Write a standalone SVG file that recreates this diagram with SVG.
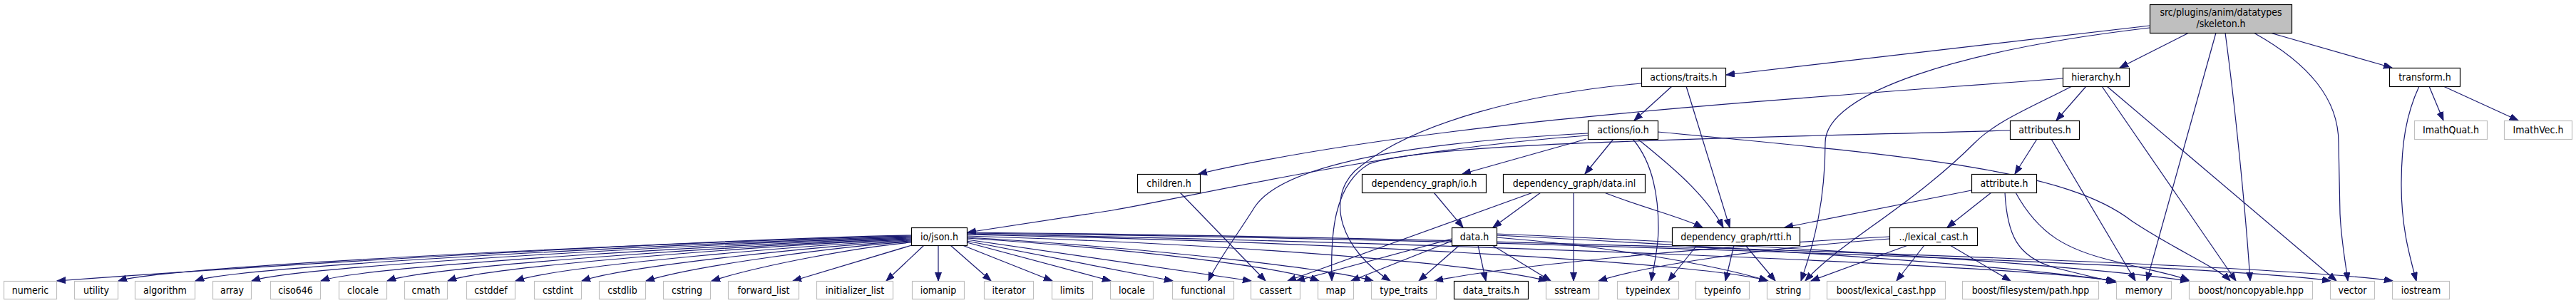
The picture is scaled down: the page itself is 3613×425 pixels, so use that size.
<svg xmlns="http://www.w3.org/2000/svg" width="3613" height="425" viewBox="0 0 3613 425">
<defs>
<marker id="a" markerUnits="userSpaceOnUse" markerWidth="14" markerHeight="10" refX="12" refY="4.5" orient="auto"><path d="M0,0 L12,4.5 L0,9 z" fill="#191970" stroke="#191970" stroke-width="1"/></marker>
<style>
.n rect{fill:#fff;stroke:#000;stroke-width:1.2}
.g rect{fill:#fff;stroke:#bfbfbf;stroke-width:1.2}
.r rect{fill:#bfbfbf;stroke:#000;stroke-width:1.2}
text{font-family:"DejaVu Sans Condensed","DejaVu Sans",sans-serif;font-size:14px;text-anchor:middle;fill:#000}
#edges path{fill:none;stroke:#191970;stroke-width:1.2;marker-end:url(#a)}
</style>
</defs>
<rect width="3613" height="425" fill="#fff"/>
<g id="edges">
<path d="M3015,36 L2421,105"/>
<path d="M3015,39 C2750,70 2560,130 2560,200 C2560,280 2545,340 2526,394"/>
<path d="M3070,46 L2973,95"/>
<path d="M3108,46 L3011,394"/>
<path d="M3121,46 C3135,150 3150,300 3156,394"/>
<path d="M3161,46 C3240,90 3280,140 3280,200 L3282,300 C3284,340 3290,370 3293,394"/>
<path d="M3184,46 L3355,95"/>
<path d="M3407,121 L3427,169"/>
<path d="M3427,121 L3532,169"/>
<path d="M3393,121 C3375,160 3368,200 3368,260 C3368,320 3380,360 3389,394"/>
<path d="M2893,110 C2500,140 2000,170 1681,244"/>
<path d="M2926,121 L2884,169"/>
<path d="M2906,121 C2850,150 2800,170 2770,200 C2680,290 2580,340 2532,394"/>
<path d="M2948,121 L3136,394"/>
<path d="M2955,121 L3277,394"/>
<path d="M2345,121 L2292,169"/>
<path d="M2365,121 L2426,319"/>
<path d="M2302,117 C2150,130 1980,170 1900,240 C1860,280 1880,350 1950,394"/>
<path d="M2857,195 L2826,244"/>
<path d="M2877,195 L2995,394"/>
<path d="M2819,183 C2400,195 2000,200 1920,230 C1870,260 1866,330 1868,394"/>
<path d="M2227,190 C1950,210 1700,270 1560,295 C1450,312 1400,320 1357,326"/>
<path d="M2227,187 C1980,200 1800,230 1760,290 C1735,330 1705,370 1695,394"/>
<path d="M2225,195 L2051,244"/>
<path d="M2263,195 L2223,244"/>
<path d="M2297,195 C2340,230 2390,270 2417,319"/>
<path d="M2290,195 C2320,230 2326,280 2326,320 C2326,350 2318,380 2316,394"/>
<path d="M2325,185 C2700,220 2900,240 2990,310 C3050,350 3110,375 3128,394"/>
<path d="M1655,270 L1775,394"/>
<path d="M2011,270 L2052,319"/>
<path d="M2161,270 L2094,319"/>
<path d="M2150,270 L1806,394"/>
<path d="M2207,270 L2207,394"/>
<path d="M2250,270 C2300,290 2360,305 2388,319"/>
<path d="M2765,267 L2503,319"/>
<path d="M2793,270 L2731,319"/>
<path d="M2812,270 C2815,330 2830,360 2880,375 C2920,385 2940,390 2968,396"/>
<path d="M2827,270 C2860,330 2900,350 2960,365 C3010,378 3050,385 3070,393"/>
<path d="M2036,335 L1818,394"/>
<path d="M2036,338 L1895,394"/>
<path d="M2047,344 L1990,394"/>
<path d="M2073,344 L2084,394"/>
<path d="M2093,344 L2175,394"/>
<path d="M2099,333 C2250,345 2400,370 2480,394"/>
<path d="M2099,330 C2400,345 2800,370 2966,394"/>
<path d="M2099,328 C2500,345 2900,370 3070,394"/>
<path d="M1333,344 L1390,394"/>
<path d="M1350,344 L1476,394"/>
<path d="M1356,340 L1558,394"/>
<path d="M1356,338 L1645,394"/>
<path d="M1356,336 L1755,394"/>
<path d="M1356,334 C1600,350 1800,375 1850,394"/>
<path d="M1356,333 C1650,350 1880,380 1926,394"/>
<path d="M1356,331 C1800,345 2100,375 2170,394"/>
<path d="M1356,329 C1900,340 2400,370 2479,394"/>
<path d="M1356,328 C2000,340 2800,370 2967,394"/>
<path d="M1356,327 C2100,335 3100,370 3269,394"/>
<path d="M1356,326 C2100,333 3200,370 3356,394"/>
<path d="M1316,344 L1316,394"/>
<path d="M1296,344 L1243,394"/>
<path d="M1282,343 L1112,394"/>
<path d="M1278,340 C1207,346 1067,372 998,394"/>
<path d="M1278,339 C1184,345 975,372 906,394"/>
<path d="M1278,338 C1161,344 882,372 816,394"/>
<path d="M1278,337 C1139,343 789,372 723,394"/>
<path d="M1278,336 C1115,342 690,372 628,394"/>
<path d="M1278,335 C1094,341 606,372 543,394"/>
<path d="M1278,334 C1070,340 514,372 450,394"/>
<path d="M1278,333 C1046,339 420,372 353,394"/>
<path d="M1278,332 C1027,338 337,372 274,394"/>
<path d="M1278,331 C1000,337 235,372 166,394"/>
<path d="M1278,330 C978,336 377,372 80,394"/>
<path d="M2380,344 L2340,394"/>
<path d="M2432,344 L2420,394"/>
<path d="M2448,344 L2490,394"/>
<path d="M2650,332 C2400,345 2100,375 2012,394"/>
<path d="M2650,335 C2450,350 2300,375 2242,394"/>
<path d="M2676,344 L2540,394"/>
<path d="M2699,344 L2660,394"/>
<path d="M2735,344 L2820,394"/>
</g>
<g id="n_skeleton" class="r"><rect x="3015.5" y="6.5" width="199" height="40"/><text x="3115" y="22">src/plugins/anim/datatypes</text><text x="3115" y="38">/skeleton.h</text></g>
<g id="n_traits" class="n"><rect x="2302.5" y="95.5" width="118" height="26"/><text x="2361.5" y="113">actions/traits.h</text></g>
<g id="n_hierarchy" class="n"><rect x="2893.5" y="95.5" width="93" height="26"/><text x="2940" y="113">hierarchy.h</text></g>
<g id="n_transform" class="n"><rect x="3351.5" y="95.5" width="99" height="26"/><text x="3401" y="113">transform.h</text></g>
<g id="n_actions_io" class="n"><rect x="2227.5" y="169.5" width="98" height="26"/><text x="2276.5" y="187">actions/io.h</text></g>
<g id="n_attributes" class="n"><rect x="2819.5" y="169.5" width="97" height="26"/><text x="2868" y="187">attributes.h</text></g>
<g id="n_imathquat" class="g"><rect x="3386.5" y="169.5" width="102" height="26"/><text x="3437.5" y="187">ImathQuat.h</text></g>
<g id="n_imathvec" class="g"><rect x="3512.5" y="169.5" width="95" height="26"/><text x="3560" y="187">ImathVec.h</text></g>
<g id="n_children" class="n"><rect x="1595.5" y="244.5" width="88" height="26"/><text x="1639.5" y="262">children.h</text></g>
<g id="n_dg_io" class="n"><rect x="1910.5" y="244.5" width="174" height="26"/><text x="1997.5" y="262">dependency_graph/io.h</text></g>
<g id="n_dg_data_inl" class="n"><rect x="2108.5" y="244.5" width="199" height="26"/><text x="2208" y="262">dependency_graph/data.inl</text></g>
<g id="n_attribute" class="n"><rect x="2765.5" y="244.5" width="91" height="26"/><text x="2811" y="262">attribute.h</text></g>
<g id="n_io_json" class="n"><rect x="1278.5" y="319.5" width="78" height="25"/><text x="1317.5" y="337">io/json.h</text></g>
<g id="n_data" class="n"><rect x="2036.5" y="319.5" width="63" height="25"/><text x="2068" y="337">data.h</text></g>
<g id="n_dg_rtti" class="n"><rect x="2345.5" y="319.5" width="179" height="25"/><text x="2435" y="337">dependency_graph/rtti.h</text></g>
<g id="n_lexical_cast" class="n"><rect x="2650.5" y="319.5" width="123" height="25"/><text x="2712" y="337">../lexical_cast.h</text></g>
<g id="n_numeric" class="g"><rect x="5.5" y="394.5" width="74" height="25"/><text x="42.5" y="412">numeric</text></g>
<g id="n_utility" class="g"><rect x="104.5" y="394.5" width="61" height="25"/><text x="135" y="412">utility</text></g>
<g id="n_algorithm" class="g"><rect x="189.5" y="394.5" width="84" height="25"/><text x="231.5" y="412">algorithm</text></g>
<g id="n_array" class="g"><rect x="298.5" y="394.5" width="54" height="25"/><text x="325.5" y="412">array</text></g>
<g id="n_ciso646" class="g"><rect x="379.5" y="394.5" width="70" height="25"/><text x="414.5" y="412">ciso646</text></g>
<g id="n_clocale" class="g"><rect x="475.5" y="394.5" width="67" height="25"/><text x="509" y="412">clocale</text></g>
<g id="n_cmath" class="g"><rect x="567.5" y="394.5" width="60" height="25"/><text x="597.5" y="412">cmath</text></g>
<g id="n_cstddef" class="g"><rect x="654.5" y="394.5" width="68" height="25"/><text x="688.5" y="412">cstddef</text></g>
<g id="n_cstdint" class="g"><rect x="749.5" y="394.5" width="66" height="25"/><text x="782.5" y="412">cstdint</text></g>
<g id="n_cstdlib" class="g"><rect x="840.5" y="394.5" width="65" height="25"/><text x="873" y="412">cstdlib</text></g>
<g id="n_cstring" class="g"><rect x="930.5" y="394.5" width="66" height="25"/><text x="963.5" y="412">cstring</text></g>
<g id="n_forward_list" class="g"><rect x="1021.5" y="394.5" width="99" height="25"/><text x="1071" y="412">forward_list</text></g>
<g id="n_initializer_list" class="g"><rect x="1145.5" y="394.5" width="107" height="25"/><text x="1199" y="412">initializer_list</text></g>
<g id="n_iomanip" class="g"><rect x="1279.5" y="394.5" width="73" height="25"/><text x="1316" y="412">iomanip</text></g>
<g id="n_iterator" class="g"><rect x="1380.5" y="394.5" width="69" height="25"/><text x="1415" y="412">iterator</text></g>
<g id="n_limits" class="g"><rect x="1475.5" y="394.5" width="57" height="25"/><text x="1504" y="412">limits</text></g>
<g id="n_locale" class="g"><rect x="1557.5" y="394.5" width="60" height="25"/><text x="1587.5" y="412">locale</text></g>
<g id="n_functional" class="g"><rect x="1644.5" y="394.5" width="86" height="25"/><text x="1687.5" y="412">functional</text></g>
<g id="n_cassert" class="g"><rect x="1754.5" y="394.5" width="69" height="25"/><text x="1789" y="412">cassert</text></g>
<g id="n_map" class="g"><rect x="1848.5" y="394.5" width="50" height="25"/><text x="1873.5" y="412">map</text></g>
<g id="n_type_traits" class="g"><rect x="1923.5" y="394.5" width="91" height="25"/><text x="1969" y="412">type_traits</text></g>
<g id="n_data_traits" class="n"><rect x="2039.5" y="394.5" width="104" height="25"/><text x="2091.5" y="412">data_traits.h</text></g>
<g id="n_sstream" class="g"><rect x="2168.5" y="394.5" width="74" height="25"/><text x="2205.5" y="412">sstream</text></g>
<g id="n_typeindex" class="g"><rect x="2268.5" y="394.5" width="86" height="25"/><text x="2311.5" y="412">typeindex</text></g>
<g id="n_typeinfo" class="g"><rect x="2378.5" y="394.5" width="75" height="25"/><text x="2416" y="412">typeinfo</text></g>
<g id="n_string" class="g"><rect x="2478.5" y="394.5" width="60" height="25"/><text x="2508.5" y="412">string</text></g>
<g id="n_boost_lexical_cast" class="g"><rect x="2562.5" y="394.5" width="166" height="25"/><text x="2645.5" y="412">boost/lexical_cast.hpp</text></g>
<g id="n_boost_path" class="g"><rect x="2752.5" y="394.5" width="191" height="25"/><text x="2848" y="412">boost/filesystem/path.hpp</text></g>
<g id="n_memory" class="g"><rect x="2968.5" y="394.5" width="77" height="25"/><text x="3007" y="412">memory</text></g>
<g id="n_boost_noncopyable" class="g"><rect x="3070.5" y="394.5" width="173" height="25"/><text x="3157" y="412">boost/noncopyable.hpp</text></g>
<g id="n_vector" class="g"><rect x="3268.5" y="394.5" width="62" height="25"/><text x="3299.5" y="412">vector</text></g>
<g id="n_iostream" class="g"><rect x="3355.5" y="394.5" width="80" height="25"/><text x="3395.5" y="412">iostream</text></g>
</svg>
